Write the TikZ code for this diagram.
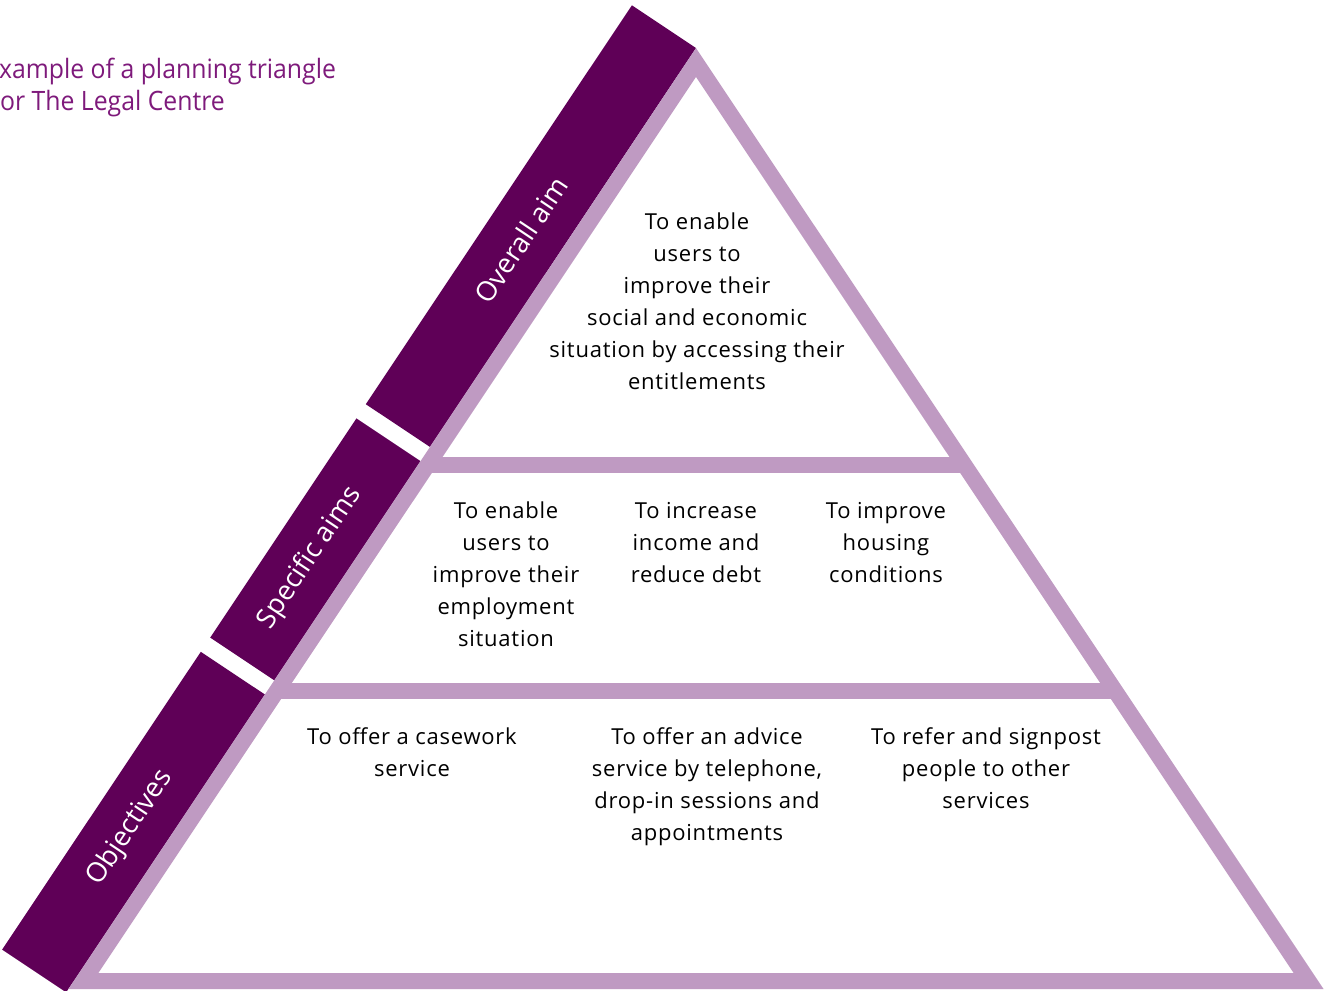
\documentclass[tikz,border=0pt]{standalone}
\usepackage{fontspec}
\setmainfont{Open Sans}
\newfontfamily\bodyfont[LetterSpace=3.5]{Open Sans}
\newfontfamily\headfont[FakeStretch=0.93]{Open Sans}
\usetikzlibrary{calc}
\definecolor{plum}{HTML}{5F0057}
\definecolor{lilac}{HTML}{BF9AC2}
\definecolor{titleplum}{HTML}{7E1A7B}
\begin{document}
\begin{tikzpicture}[x=0.75pt,y=-0.75pt,
  band/.style={fill=plum},
  rim/.style={draw=lilac,line width=12pt,line join=miter},
  bandlabel/.style={text=white,font=\fontsize{20.5}{24}\selectfont,rotate=56.3,inner sep=0pt},
  goal/.style={align=center,font=\bodyfont\fontsize{16.5}{24}\selectfont,text=black,inner sep=0pt},
  heading/.style={anchor=base west,text=titleplum,font=\headfont\fontsize{20}{24}\selectfont,inner sep=0pt}]
\useasboundingbox (0,0) rectangle (1325,990);
\begin{scope}
\clip (0,0) rectangle (1325,990);

% dark side band, in three pieces
\fill[band] (696,48) -- (429.9,446.9) -- (365.8,404.2) -- (631.9,5.3) -- cycle;
\fill[band] (420.5,461.1) -- (274.3,680.3) -- (210.2,637.6) -- (356.4,418.4) -- cycle;
\fill[band] (264.9,694.5) -- (66.2,992.3) -- (2.1,949.6) -- (200.8,651.8) -- cycle;

% triangle outline and tier dividers
\coordinate (apex) at (696,62.5);
\coordinate (br) at (1308.6,981);
\coordinate (bl) at (83.4,981);
\draw[rim] (apex) -- (br) -- (bl) -- cycle;
\draw[rim] ($(apex)!0.4382!(bl)$) -- ($(apex)!0.4382!(br)$);
\draw[rim] ($(apex)!0.6843!(bl)$) -- ($(apex)!0.6843!(br)$);

% band labels
\node[bandlabel] (overall) at (521,240) {Overall aim};
\node[bandlabel] (specific) at (310,558) {Specific aims};
\node[bandlabel] (objectives) at (130,828) {Objectives};

% tier contents
\node[goal] (aim) at (697,301) {To enable\\users to\\improve their\\social and economic\\situation by accessing their\\entitlements};
\node[goal] (sa1) at (506,574) {To enable\\users to\\improve their\\employment\\situation};
\node[goal] (sa2) at (696,543) {To increase\\income and\\reduce debt};
\node[goal] (sa3) at (886,543) {To improve\\housing\\conditions};
\node[goal] (ob1) at (412,752) {To offer a casework\\service};
\node[goal] (ob2) at (707,787) {To offer an advice\\service by telephone,\\drop-in sessions and\\appointments};
\node[goal] (ob3) at (986,768) {To refer and signpost\\people to other\\services};

% heading
\node[heading] (title1) at (-15,78) {Example of a planning triangle};
\node[heading] (title2) at (-13,110) {For The Legal Centre};
\end{scope}
\end{tikzpicture}
\end{document}
